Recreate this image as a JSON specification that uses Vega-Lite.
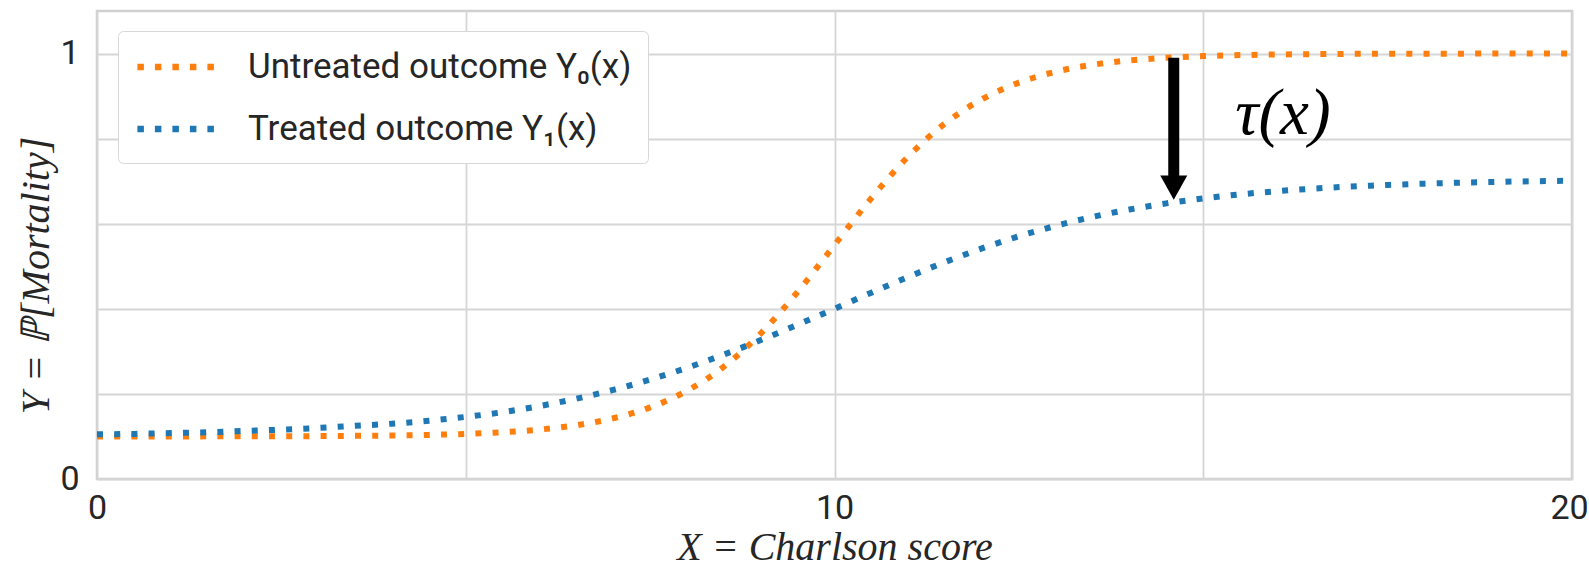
{
  "$schema": "https://vega.github.io/schema/vega-lite/v6.json",
  "autosize": {"type": "none"},
  "padding": {"left": 97, "top": 11, "right": 17, "bottom": 89},
  "width": 1475,
  "height": 468,
  "background": "white",
  "config": {
    "view": {"stroke": "#d0d0d0", "strokeWidth": 2.5},
    "axis": {
      "domain": false, "ticks": false, "grid": true,
      "gridColor": "#d6d6d6", "gridWidth": 1.8,
      "labelFont": "Roboto", "labelFontSize": 34, "labelColor": "#262626",
      "titleFont": "Liberation Serif", "titleFontStyle": "italic", "titleFontWeight": "normal",
      "titleFontSize": 40, "titleColor": "#262626"
    },
    "legend": {
      "orient": "none", "legendX": 21, "legendY": 20,
      "symbolType": "M-1,0L4,0", "symbolStrokeWidth": 6.5, "symbolDash": [6.5, 11], "symbolSize": 1102,
      "labelFont": "Roboto", "labelFontSize": 35, "labelColor": "#262626", "labelOffset": 74, "labelLimit": 0,
      "padding": 16, "rowPadding": 24,
      "fillColor": "white", "strokeColor": "#d8d8d8", "cornerRadius": 5
    }
  },
  "datasets": {
    "curves": [
      {"x": 0, "y": 0.1000, "series": "Untreated outcome Y₀(x)"},
      {"x": 0.5, "y": 0.1001, "series": "Untreated outcome Y₀(x)"},
      {"x": 1, "y": 0.1001, "series": "Untreated outcome Y₀(x)"},
      {"x": 1.5, "y": 0.1002, "series": "Untreated outcome Y₀(x)"},
      {"x": 2, "y": 0.1003, "series": "Untreated outcome Y₀(x)"},
      {"x": 2.5, "y": 0.1005, "series": "Untreated outcome Y₀(x)"},
      {"x": 3, "y": 0.1008, "series": "Untreated outcome Y₀(x)"},
      {"x": 3.5, "y": 0.1014, "series": "Untreated outcome Y₀(x)"},
      {"x": 4, "y": 0.1022, "series": "Untreated outcome Y₀(x)"},
      {"x": 4.5, "y": 0.1037, "series": "Untreated outcome Y₀(x)"},
      {"x": 5, "y": 0.1060, "series": "Untreated outcome Y₀(x)"},
      {"x": 5.5, "y": 0.1099, "series": "Untreated outcome Y₀(x)"},
      {"x": 6, "y": 0.1162, "series": "Untreated outcome Y₀(x)"},
      {"x": 6.5, "y": 0.1264, "series": "Untreated outcome Y₀(x)"},
      {"x": 7, "y": 0.1427, "series": "Untreated outcome Y₀(x)"},
      {"x": 7.5, "y": 0.1683, "series": "Untreated outcome Y₀(x)"},
      {"x": 8, "y": 0.2073, "series": "Untreated outcome Y₀(x)"},
      {"x": 8.5, "y": 0.2642, "series": "Untreated outcome Y₀(x)"},
      {"x": 9, "y": 0.3420, "series": "Untreated outcome Y₀(x)"},
      {"x": 9.5, "y": 0.4398, "series": "Untreated outcome Y₀(x)"},
      {"x": 10, "y": 0.5500, "series": "Untreated outcome Y₀(x)"},
      {"x": 10.5, "y": 0.6602, "series": "Untreated outcome Y₀(x)"},
      {"x": 11, "y": 0.7580, "series": "Untreated outcome Y₀(x)"},
      {"x": 11.5, "y": 0.8358, "series": "Untreated outcome Y₀(x)"},
      {"x": 12, "y": 0.8927, "series": "Untreated outcome Y₀(x)"},
      {"x": 12.5, "y": 0.9317, "series": "Untreated outcome Y₀(x)"},
      {"x": 13, "y": 0.9573, "series": "Untreated outcome Y₀(x)"},
      {"x": 13.5, "y": 0.9736, "series": "Untreated outcome Y₀(x)"},
      {"x": 14, "y": 0.9838, "series": "Untreated outcome Y₀(x)"},
      {"x": 14.5, "y": 0.9901, "series": "Untreated outcome Y₀(x)"},
      {"x": 15, "y": 0.9940, "series": "Untreated outcome Y₀(x)"},
      {"x": 15.5, "y": 0.9963, "series": "Untreated outcome Y₀(x)"},
      {"x": 16, "y": 0.9978, "series": "Untreated outcome Y₀(x)"},
      {"x": 16.5, "y": 0.9986, "series": "Untreated outcome Y₀(x)"},
      {"x": 17, "y": 0.9992, "series": "Untreated outcome Y₀(x)"},
      {"x": 17.5, "y": 0.9995, "series": "Untreated outcome Y₀(x)"},
      {"x": 18, "y": 0.9997, "series": "Untreated outcome Y₀(x)"},
      {"x": 18.5, "y": 0.9998, "series": "Untreated outcome Y₀(x)"},
      {"x": 19, "y": 0.9999, "series": "Untreated outcome Y₀(x)"},
      {"x": 19.5, "y": 0.9999, "series": "Untreated outcome Y₀(x)"},
      {"x": 20, "y": 1.0000, "series": "Untreated outcome Y₀(x)"},
      {"x": 0, "y": 0.105, "series": "Treated outcome Y₁(x)"},
      {"x": 0.5, "y": 0.106, "series": "Treated outcome Y₁(x)"},
      {"x": 1, "y": 0.108, "series": "Treated outcome Y₁(x)"},
      {"x": 1.5, "y": 0.110, "series": "Treated outcome Y₁(x)"},
      {"x": 2, "y": 0.113, "series": "Treated outcome Y₁(x)"},
      {"x": 2.5, "y": 0.116, "series": "Treated outcome Y₁(x)"},
      {"x": 3, "y": 0.120, "series": "Treated outcome Y₁(x)"},
      {"x": 3.5, "y": 0.125, "series": "Treated outcome Y₁(x)"},
      {"x": 4, "y": 0.130, "series": "Treated outcome Y₁(x)"},
      {"x": 4.5, "y": 0.137, "series": "Treated outcome Y₁(x)"},
      {"x": 5, "y": 0.146, "series": "Treated outcome Y₁(x)"},
      {"x": 5.5, "y": 0.157, "series": "Treated outcome Y₁(x)"},
      {"x": 6, "y": 0.1715, "series": "Treated outcome Y₁(x)"},
      {"x": 6.5, "y": 0.1888, "series": "Treated outcome Y₁(x)"},
      {"x": 7, "y": 0.2094, "series": "Treated outcome Y₁(x)"},
      {"x": 7.5, "y": 0.2336, "series": "Treated outcome Y₁(x)"},
      {"x": 8, "y": 0.2613, "series": "Treated outcome Y₁(x)"},
      {"x": 8.5, "y": 0.2925, "series": "Treated outcome Y₁(x)"},
      {"x": 9, "y": 0.3265, "series": "Treated outcome Y₁(x)"},
      {"x": 9.5, "y": 0.3627, "series": "Treated outcome Y₁(x)"},
      {"x": 10, "y": 0.4000, "series": "Treated outcome Y₁(x)"},
      {"x": 10.5, "y": 0.4380, "series": "Treated outcome Y₁(x)"},
      {"x": 11, "y": 0.4750, "series": "Treated outcome Y₁(x)"},
      {"x": 11.5, "y": 0.5100, "series": "Treated outcome Y₁(x)"},
      {"x": 12, "y": 0.5420, "series": "Treated outcome Y₁(x)"},
      {"x": 12.5, "y": 0.5705, "series": "Treated outcome Y₁(x)"},
      {"x": 13, "y": 0.5950, "series": "Treated outcome Y₁(x)"},
      {"x": 13.5, "y": 0.6160, "series": "Treated outcome Y₁(x)"},
      {"x": 14, "y": 0.6335, "series": "Treated outcome Y₁(x)"},
      {"x": 14.5, "y": 0.6478, "series": "Treated outcome Y₁(x)"},
      {"x": 15, "y": 0.6595, "series": "Treated outcome Y₁(x)"},
      {"x": 15.5, "y": 0.6690, "series": "Treated outcome Y₁(x)"},
      {"x": 16, "y": 0.6765, "series": "Treated outcome Y₁(x)"},
      {"x": 16.5, "y": 0.6826, "series": "Treated outcome Y₁(x)"},
      {"x": 17, "y": 0.6874, "series": "Treated outcome Y₁(x)"},
      {"x": 17.5, "y": 0.6912, "series": "Treated outcome Y₁(x)"},
      {"x": 18, "y": 0.6942, "series": "Treated outcome Y₁(x)"},
      {"x": 18.5, "y": 0.6965, "series": "Treated outcome Y₁(x)"},
      {"x": 19, "y": 0.6984, "series": "Treated outcome Y₁(x)"},
      {"x": 19.5, "y": 0.6999, "series": "Treated outcome Y₁(x)"},
      {"x": 20, "y": 0.7010, "series": "Treated outcome Y₁(x)"}
    ],
    "arrow": [{"x": 14.6, "y": 0.99, "y2": 0.712}],
    "head": [{"x": 14.6, "y": 0.685}],
    "annot": [{"x": 16.08, "y": 0.858, "label": "τ(x)"}]
  },
  "layer": [
    {
      "data": {"name": "curves"},
      "mark": {"type": "line", "strokeWidth": 6, "strokeDash": [6, 11.2], "interpolate": "monotone"},
      "encoding": {
        "x": {
          "field": "x", "type": "quantitative",
          "scale": {"domain": [0, 20], "nice": false, "zero": false},
          "axis": {
            "values": [0, 5, 10, 15, 20], "format": "d",
            "labelExpr": "datum.value % 10 == 0 ? datum.label : ''",
            "labelFlush": false, "labelOverlap": false, "labelPadding": 12,
            "labelOffset": {"condition": {"test": "datum.value == 20", "value": -3}, "value": 0},
            "title": "X = Charlson score", "titleFontSize": 40, "titleY": 80, "titleBaseline": "alphabetic"
          }
        },
        "y": {
          "field": "y", "type": "quantitative",
          "scale": {"domain": [0, 1.1], "nice": false},
          "axis": {
            "values": [0, 0.2, 0.4, 0.6, 0.8, 1],
            "labelExpr": "datum.value == 0 ? '0' : (datum.value == 1 ? '1' : '')",
            "labelPadding": 18, "labelOverlap": false,
            "title": "Y = ℙ[Mortality]", "titleX": -61, "titleY": 264,
            "titleAngle": -90, "titleAlign": "center", "titleBaseline": "middle"
          }
        },
        "color": {
          "field": "series", "type": "nominal",
          "scale": {"domain": ["Untreated outcome Y₀(x)", "Treated outcome Y₁(x)"], "range": ["#ff7f0e", "#1f77b4"]},
          "legend": {"title": null}
        }
      }
    },
    {
      "data": {"name": "arrow"},
      "mark": {"type": "rule", "strokeWidth": 11, "color": "black"},
      "encoding": {
        "x": {"field": "x", "type": "quantitative"},
        "y": {"field": "y", "type": "quantitative"},
        "y2": {"field": "y2"}
      }
    },
    {
      "data": {"name": "head"},
      "mark": {"type": "point", "shape": "M-1,-0.9L1,-0.9L0,0.9Z", "filled": true, "color": "black", "opacity": 1, "size": 729},
      "encoding": {
        "x": {"field": "x", "type": "quantitative"},
        "y": {"field": "y", "type": "quantitative"}
      }
    },
    {
      "data": {"name": "annot"},
      "mark": {"type": "text", "font": "Liberation Serif", "fontStyle": "italic", "fontSize": 65, "align": "center", "baseline": "middle", "color": "black"},
      "encoding": {
        "x": {"field": "x", "type": "quantitative"},
        "y": {"field": "y", "type": "quantitative"},
        "text": {"field": "label"}
      }
    }
  ]
}
